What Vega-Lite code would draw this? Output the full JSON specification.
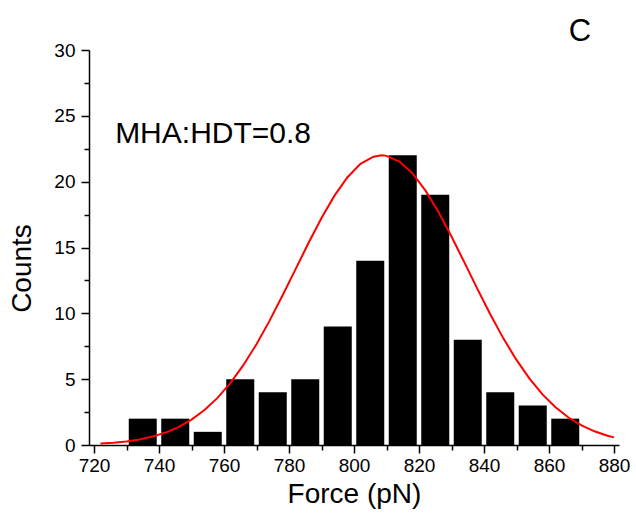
{
  "$schema": "https://vega.github.io/schema/vega-lite/v6.json",
  "autosize": "none",
  "width": 530,
  "height": 395,
  "padding": {"left": 89, "top": 50, "right": 17, "bottom": 77},
  "background": "white",
  "config": {
    "view": {"stroke": null},
    "font": "Liberation Sans",
    "axis": {
      "domainColor": "black", "domainWidth": 1.5, "tickColor": "black", "tickWidth": 1.5,
      "labelColor": "black", "titleColor": "black", "grid": false,
      "labelFont": "Liberation Sans", "titleFont": "Liberation Sans",
      "titleFontWeight": "normal", "labelFontSize": 19, "titleFontSize": 28
    }
  },
  "datasets": {
    "bars": [
      {"force": 735, "count": 2}, {"force": 745, "count": 2}, {"force": 755, "count": 1},
      {"force": 765, "count": 5}, {"force": 775, "count": 4}, {"force": 785, "count": 5},
      {"force": 795, "count": 9}, {"force": 805, "count": 14}, {"force": 815, "count": 22},
      {"force": 825, "count": 19}, {"force": 835, "count": 8}, {"force": 845, "count": 4},
      {"force": 855, "count": 3}, {"force": 865, "count": 2}
    ],
    "fit": [
      {"force": 722, "count": 0.107}, {"force": 726, "count": 0.173}, {"force": 730, "count": 0.273},
      {"force": 734, "count": 0.423}, {"force": 738, "count": 0.639}, {"force": 742, "count": 0.944},
      {"force": 746, "count": 1.363}, {"force": 750, "count": 1.924}, {"force": 754, "count": 2.654},
      {"force": 758, "count": 3.579}, {"force": 762, "count": 4.717}, {"force": 766, "count": 6.081},
      {"force": 770, "count": 7.658}, {"force": 774, "count": 9.427}, {"force": 778, "count": 11.35},
      {"force": 782, "count": 13.34}, {"force": 786, "count": 15.34}, {"force": 790, "count": 17.24},
      {"force": 794, "count": 18.94}, {"force": 798, "count": 20.34}, {"force": 802, "count": 21.35},
      {"force": 806, "count": 21.9}, {"force": 808.5, "count": 22.0}, {"force": 810, "count": 21.96},
      {"force": 814, "count": 21.53}, {"force": 818, "count": 20.63}, {"force": 822, "count": 19.32},
      {"force": 826, "count": 17.69}, {"force": 830, "count": 15.83}, {"force": 834, "count": 13.85},
      {"force": 838, "count": 11.84}, {"force": 842, "count": 9.89}, {"force": 846, "count": 8.08},
      {"force": 850, "count": 6.46}, {"force": 854, "count": 5.04}, {"force": 858, "count": 3.84},
      {"force": 862, "count": 2.87}, {"force": 866, "count": 2.09}, {"force": 870, "count": 1.49},
      {"force": 874, "count": 1.04}, {"force": 878, "count": 0.706}, {"force": 880, "count": 0.578}
    ],
    "labels": [
      {"force": 726.5, "count": 22.96, "label": "MHA:HDT=0.8", "kind": "note"},
      {"force": 869.5, "count": 30.68, "label": "C", "kind": "panel"}
    ]
  },
  "resolve": {"axis": {"x": "independent", "y": "independent"}},
  "layer": [
    {
      "data": {"name": "bars"},
      "mark": {"type": "bar", "color": "black", "size": 28},
      "encoding": {
        "x": {"field": "force", "type": "quantitative",
          "scale": {"domain": [720, 880], "nice": false, "zero": false},
          "axis": {"title": "Force (pN)", "values": [720, 740, 760, 780, 800, 820, 840, 860, 880],
            "tickSize": 8, "labelPadding": 3, "labelFontSize": 19, "labelFlush": false, "titleY": 57, "titleBaseline": "alphabetic", "orient": "bottom"}},
        "y": {"field": "count", "type": "quantitative",
          "scale": {"domain": [0, 30], "nice": false},
          "axis": {"title": "Counts", "values": [0, 5, 10, 15, 20, 25, 30],
            "tickSize": 8, "labelPadding": 6, "labelFontSize": 19, "titleAngle": -90, "titleX": -67, "titleY": 218,
            "titleBaseline": "middle", "titleAlign": "center", "orient": "left"}}
      }
    },
    {
      "data": {"name": "fit"},
      "mark": {"type": "line", "color": "#ff0000", "strokeWidth": 2},
      "encoding": {
        "x": {"field": "force", "type": "quantitative",
          "axis": {"title": null, "labels": false, "domain": false, "tickSize": 5, "orient": "bottom",
            "values": [730, 750, 770, 790, 810, 830, 850, 870]}},
        "y": {"field": "count", "type": "quantitative",
          "axis": {"title": null, "labels": false, "domain": false, "tickSize": 5, "orient": "left",
            "values": [2.5, 7.5, 12.5, 17.5, 22.5, 27.5]}}
      }
    },
    {
      "data": {"name": "labels"},
      "transform": [{"filter": "datum.kind == 'note'"}],
      "mark": {"type": "text", "align": "left", "baseline": "alphabetic", "fontSize": 30, "font": "Liberation Sans", "color": "black"},
      "encoding": {
        "x": {"field": "force", "type": "quantitative", "axis": null},
        "y": {"field": "count", "type": "quantitative", "axis": null},
        "text": {"field": "label"}
      }
    },
    {
      "data": {"name": "labels"},
      "transform": [{"filter": "datum.kind == 'panel'"}],
      "mark": {"type": "text", "align": "center", "baseline": "alphabetic", "fontSize": 31, "font": "Liberation Sans", "color": "black", "clip": false},
      "encoding": {
        "x": {"field": "force", "type": "quantitative", "axis": null},
        "y": {"field": "count", "type": "quantitative", "axis": null},
        "text": {"field": "label"}
      }
    }
  ]
}
